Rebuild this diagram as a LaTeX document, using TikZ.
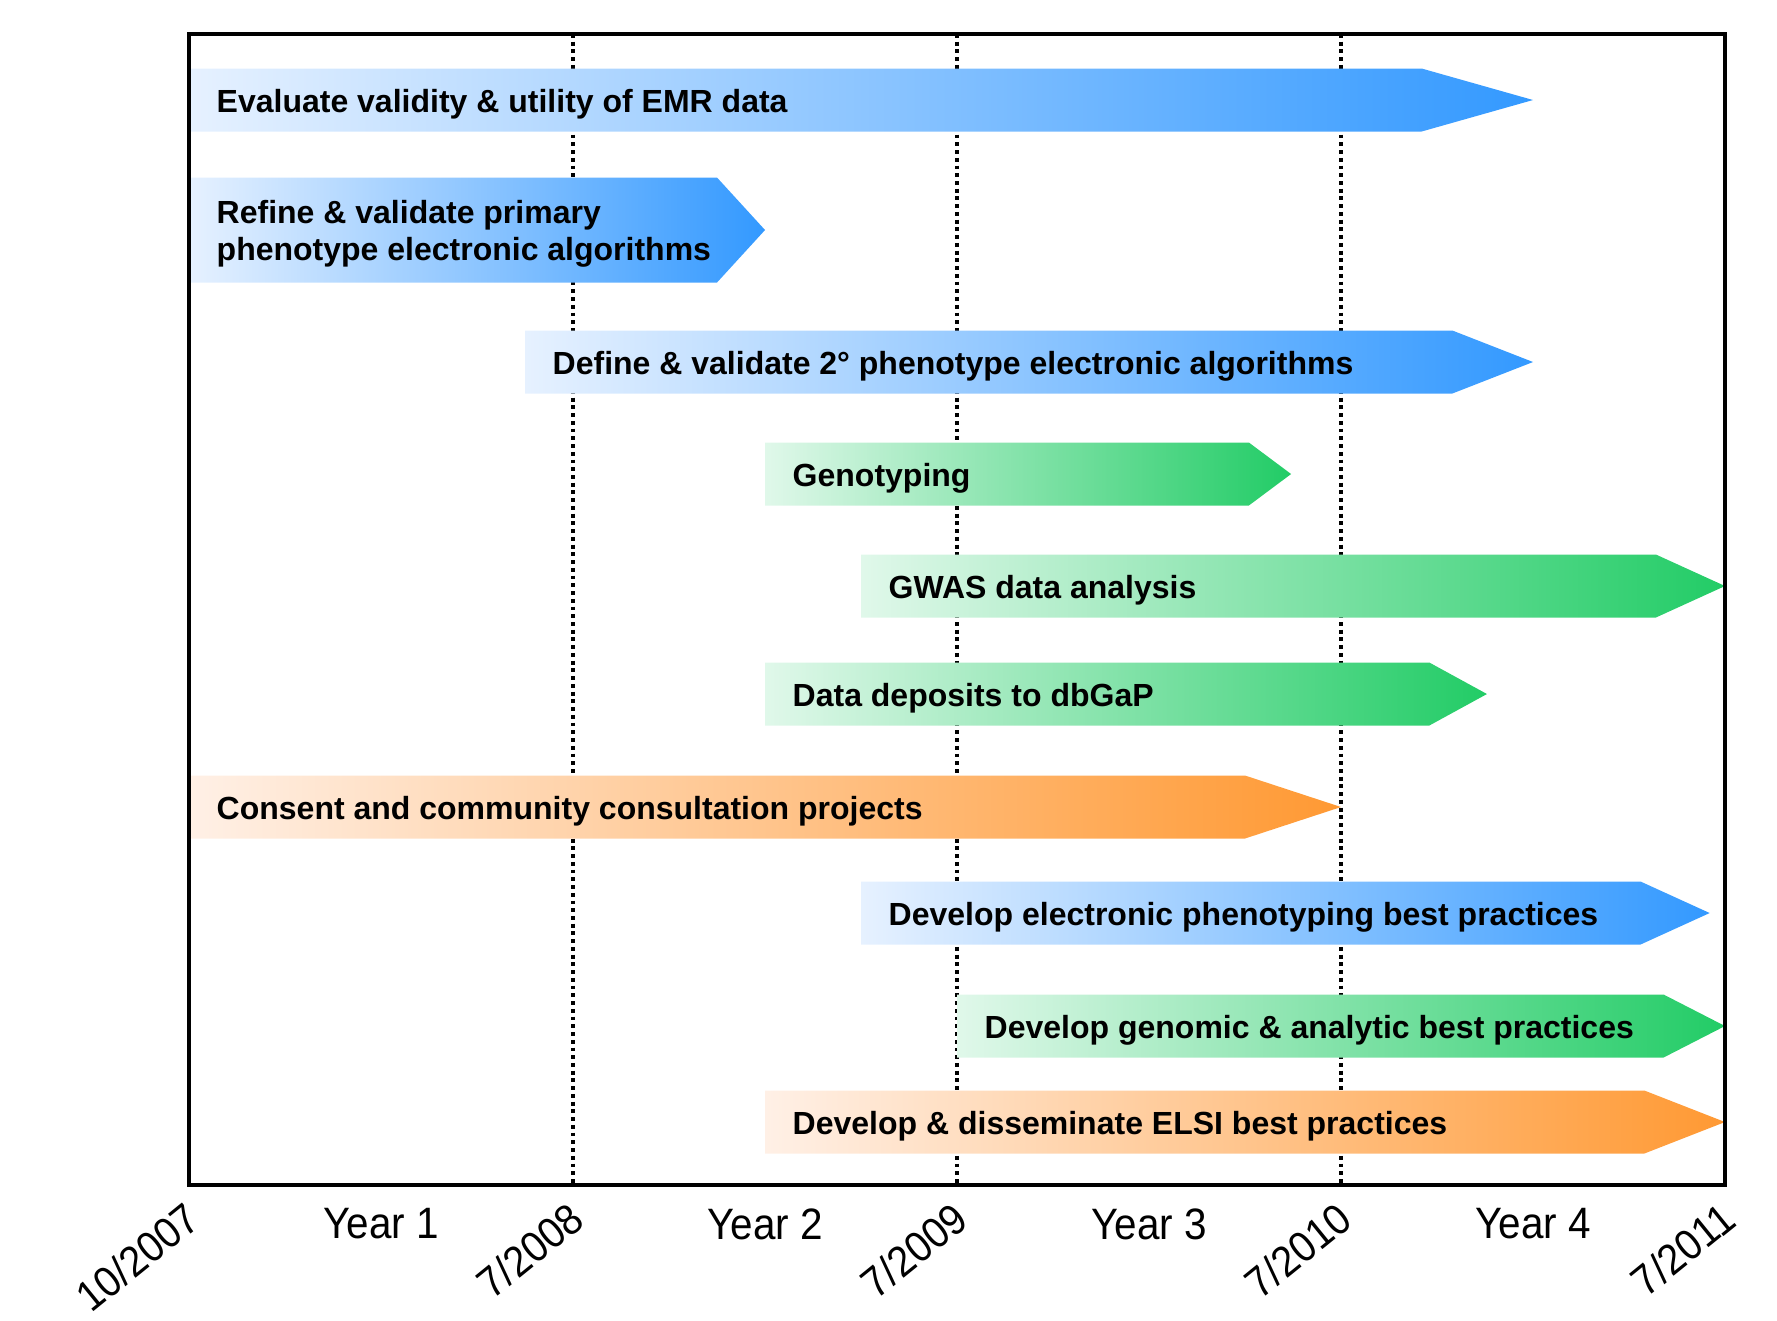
\documentclass[tikz,border=0pt]{standalone}
\usepackage{fontspec}
\setmainfont{Liberation Sans}
\usetikzlibrary{math}

% bar colours: light (L), middle (M), saturated (R)
\definecolor{phenoL}{RGB}{230,241,255}
\definecolor{phenoM}{RGB}{206,226,255}
\definecolor{phenoR}{RGB}{51,153,255}
\definecolor{genoL}{RGB}{224,248,234}
\definecolor{genoM}{RGB}{184,236,204}
\definecolor{genoR}{RGB}{34,204,102}
\definecolor{elsiL}{RGB}{255,240,230}
\definecolor{elsiM}{RGB}{255,218,192}
\definecolor{elsiR}{RGB}{255,153,51}

\begin{document}
\begin{tikzpicture}[x=0.01cm,y=-0.01cm,
      barlabel/.style={anchor=west, align=left, inner sep=0pt,
        font=\bfseries\fontsize{9.1}{10.6}\selectfont},
      yearlabel/.style={font=\fontsize{12.5}{14}\selectfont\addfontfeatures{FakeStretch=0.92}},
      datelabel/.style={anchor=north east, rotate=39, inner sep=0pt,
        font=\fontsize{12.2}{14}\selectfont\addfontfeatures{FakeStretch=0.92}},
      yearline/.style={line width=1.1pt, dash pattern=on 1.1pt off 1.1pt}]
    \tikzmath{
      \X=189; \Yr=384; % left edge and width of one year
      \Top=34; \Bot=1185;
    }
    \useasboundingbox (0,0) rectangle (1777,1320);

    % dotted lines between years
    \foreach \i in {1,2,3}
      \draw[yearline] (\X+\i*\Yr,\Top) -- (\X+\i*\Yr,\Bot);

    % bars: start/end/tip (in years), centre, half height, colour, text
    \foreach \s/\e/\t/\c/\h/\col/\txt [count=\n] in {
        0/3.21/3.50/100/31.5/pheno/{Evaluate validity \& utility of EMR data},
        0/1.375/1.50/230/52.5/pheno/{Refine \& validate primary\\phenotype electronic algorithms},
        0.875/3.29/3.50/362/31.5/pheno/{Define \& validate 2° phenotype electronic algorithms},
        1.50/2.76/2.87/474/31.5/geno/{Genotyping},
        1.75/3.82/4.00/586/31.5/geno/{GWAS data analysis},
        1.50/3.23/3.38/694/31.5/geno/{Data deposits to dbGaP},
        0/2.75/3.00/807/31.5/elsi/{Consent and community consultation projects},
        1.75/3.78/3.96/913/31.5/pheno/{Develop electronic phenotyping best practices},
        2.00/3.84/4.00/1026/31.5/geno/{Develop genomic \& analytic best practices},
        1.50/3.79/4.00/1122/31.5/elsi/{Develop \& disseminate ELSI best practices}} {
      \shade[left color=\col L, middle color=\col M, right color=\col R]
        (\X+\s*\Yr,\c-\h) -- (\X+\e*\Yr,\c-\h) -- (\X+\t*\Yr,\c)
        -- (\X+\e*\Yr,\c+\h) -- (\X+\s*\Yr,\c+\h) -- cycle;
      \node[barlabel] (bar\n) at (\X+\s*\Yr+27,\c+4) {\txt};
    }

    % frame
    \draw[line width=1.3pt] (\X,\Top) rectangle (\X+4*\Yr,\Bot);

    % axis labels
    \foreach \i in {1,...,4}
      \node[yearlabel] (year\i) at (\X+\i*\Yr-\Yr/2,1224) {Year \i};
    \foreach \d [count=\i from 0] in {{10/2007},{7/2008},{7/2009},{7/2010},{7/2011}}
      \node[datelabel] (date\i) at (\X+\i*\Yr-6,1199) {\d};
  \end{tikzpicture}
\end{document}
